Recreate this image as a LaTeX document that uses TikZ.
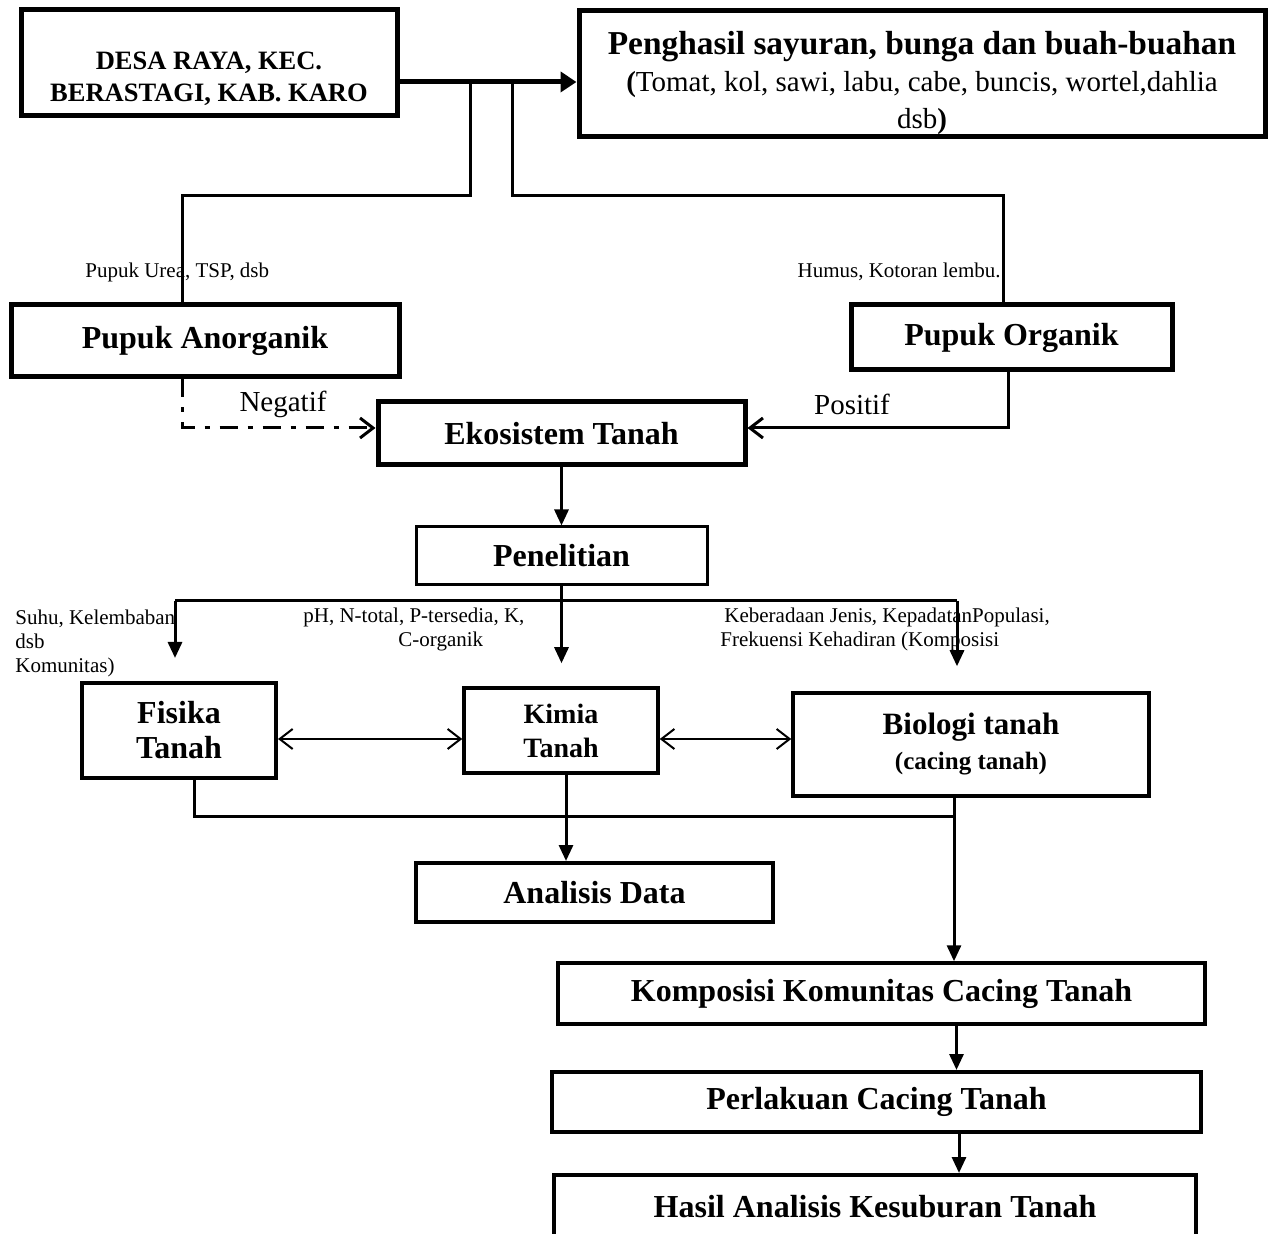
\documentclass[tikz,border=0pt]{standalone}
\usepackage{fontspec}
\setmainfont{Liberation Serif}
\usetikzlibrary{arrows.meta}
\newdimen\pu \pu=0.5pt
\begin{document}
\begin{tikzpicture}[x=0.5pt,y=-0.5pt,
  box/.style={draw, rectangle, line width=2pt, inner sep=0pt, align=center,
    font=\bfseries\fontsize{16}{17.5}\selectfont},
  heavy/.style={line width=2.5pt},
  conn/.style={line width=1.5pt},
  arr/.style={line width=1.5pt, -{Triangle[length=8pt,width=7pt]}},
  barb/.style={-{Straight Barb[length=6.5pt,width=10pt]}},
  dbl/.style={line width=1pt, {Straight Barb[length=6.5pt,width=10pt]}-{Straight Barb[length=6.5pt,width=10pt]}},
  small/.style={font=\fontsize{10.5}{12}\selectfont, inner sep=0pt},
  mid/.style={font=\fontsize{14.5}{17}\selectfont, inner sep=0pt}
]
\path[use as bounding box, clip] (0,0) rectangle (1269,1234);
\fill[white] (0,0) rectangle (1269,1234);

% boxes
\node[box, heavy, minimum width=376\pu, minimum height=106\pu] (desa) at (209,63) {};
\node[align=center, inner sep=0pt, font=\bfseries\fontsize{13.25}{16}\selectfont] (desaT) at (209,79) {DESA RAYA, KEC.\\BERASTAGI, KAB. KARO};

\node[box, heavy, minimum width=686\pu, minimum height=126\pu] (peng) at (922,73.5) {};
\node[align=center, inner sep=0pt, font=\fontsize{14.5}{18.5}\selectfont] (pengT) at (922,83)
  {{\bfseries\fontsize{16.7}{18.5}\selectfont Penghasil sayuran, bunga dan buah-buahan}\\
   {\bfseries(}Tomat, kol, sawi, labu, cabe, buncis, wortel,dahlia\\dsb{\bfseries)}};

\node[box, heavy, minimum width=388\pu, minimum height=72\pu] (anorg) at (205,341) {Pupuk Anorganik};
\node[box, heavy, minimum width=321\pu, minimum height=65\pu] (org) at (1011.5,337.5) {Pupuk Organik};
\node[box, heavy, minimum width=367\pu, minimum height=63\pu] (eko) at (561.5,433.5) {Ekosistem Tanah};
\node[box, line width=1.5pt, minimum width=291\pu, minimum height=58\pu] (pen) at (561.5,556) {Penelitian};
\node[box, minimum width=194\pu, minimum height=95\pu] (fisika) at (179,730.5) {Fisika\\Tanah};
\node[box, line width=1.75pt, minimum width=194\pu, minimum height=85\pu,
  font=\bfseries\fontsize{14}{17}\selectfont] (kimia) at (561,730.5) {Kimia\\Tanah};
\node[box, line width=1.75pt, minimum width=356\pu, minimum height=103\pu] (bio) at (971,744.5)
  {{\fontsize{15.5}{19}\selectfont Biologi tanah}\\{\fontsize{12.5}{19}\selectfont (cacing tanah)}};
\node[box, minimum width=357\pu, minimum height=59\pu] (ana) at (594.5,892.5) {Analisis Data};
\node[box, line width=1.75pt, minimum width=647\pu, minimum height=61\pu] (komp) at (881.5,993.5) {Komposisi Komunitas Cacing Tanah};
\node[box, minimum width=649\pu, minimum height=60\pu] (perl) at (876.5,1102) {Perlakuan Cacing Tanah};
\node[box, minimum width=642\pu, minimum height=64\pu] (hasil) at (875,1207) {Hasil Analisis Kesuburan Tanah};

% labels
\node[small, anchor=west] (lurea) at (85,272) {Pupuk Urea, TSP, dsb};
\node[small, anchor=east] (lhumus) at (1001,272) {Humus, Kotoran lembu.};
\node[mid] (lneg) at (283,404) {Negatif};
\node[mid] (lpos) at (852,404) {Positif};
\node[small, anchor=north west, align=left] (lsuhu) at (15,610) {Suhu, Kelembaban\\dsb\\Komunitas)};
\node[small, anchor=west] (lph) at (303,617) {pH, N-total, P-tersedia, K,};
\node[small, anchor=west] (lco) at (398,641) {C-organik};
\node[small, anchor=west] (lkeb) at (724,617) {Keberadaan Jenis, KepadatanPopulasi,};
\node[small, anchor=west] (lfrek) at (720,641) {Frekuensi Kehadiran (Komposisi};

% top connectors
\draw[line width=2.5pt, -{Triangle[length=8pt,width=10pt]}] ([yshift=-19\pu]desa.east) -- ([yshift=-19\pu]desa.east -| peng.west);
\coordinate (j1) at (470,82);
\coordinate (j2) at (512,82);
\draw[conn] (j1) -- (470,196) -| ([xshift=-23\pu]anorg.north);
\draw[conn] (j2) -- (512,196) -| ([xshift=-8.5\pu]org.north);

% fertiliser effects
\draw[conn, barb, dash pattern=on 9pt off 5pt on 2.5pt off 5pt] ([xshift=-23\pu]anorg.south) |- ([yshift=5.5\pu]eko.west);
\draw[conn, barb] ([xshift=-3.5\pu]org.south) |- ([yshift=5.5\pu]eko.east);

\draw[arr] (eko.south) -- (pen.north);

% research branches
\coordinate (bl) at (175,601);
\coordinate (br) at (957,601);
\draw[conn] (bl) -- (br);
\draw[arr, shorten >=23\pu] (bl) -- (bl |- fisika.north);
\draw[arr, shorten >=25\pu] (br) -- (br |- bio.north);
\draw[arr, shorten >=23\pu] (pen.south) -- (pen.south |- kimia.north);

\draw[dbl] ([yshift=-8.5\pu]fisika.east) -- ([yshift=-8.5\pu]fisika.east -| kimia.west);
\draw[dbl] ([yshift=-8.5\pu]kimia.east) -- ([yshift=-8.5\pu]kimia.east -| bio.west);

% bottom
\coordinate (bj) at (954,817);
\draw[conn] ([xshift=15\pu]fisika.south) |- (bj);
\draw[conn] (bio.south -| bj) -- (bj);
\draw[arr] (bj) -- (bj |- komp.north);
\draw[arr] ([xshift=5\pu]kimia.south) -- ([xshift=5\pu]kimia.south |- ana.north);
\draw[arr] ([xshift=75\pu]komp.south) -- ([xshift=75\pu]komp.south |- perl.north);
\draw[arr] ([xshift=82.5\pu]perl.south) -- ([xshift=82.5\pu]perl.south |- hasil.north);
\end{tikzpicture}
\end{document}
